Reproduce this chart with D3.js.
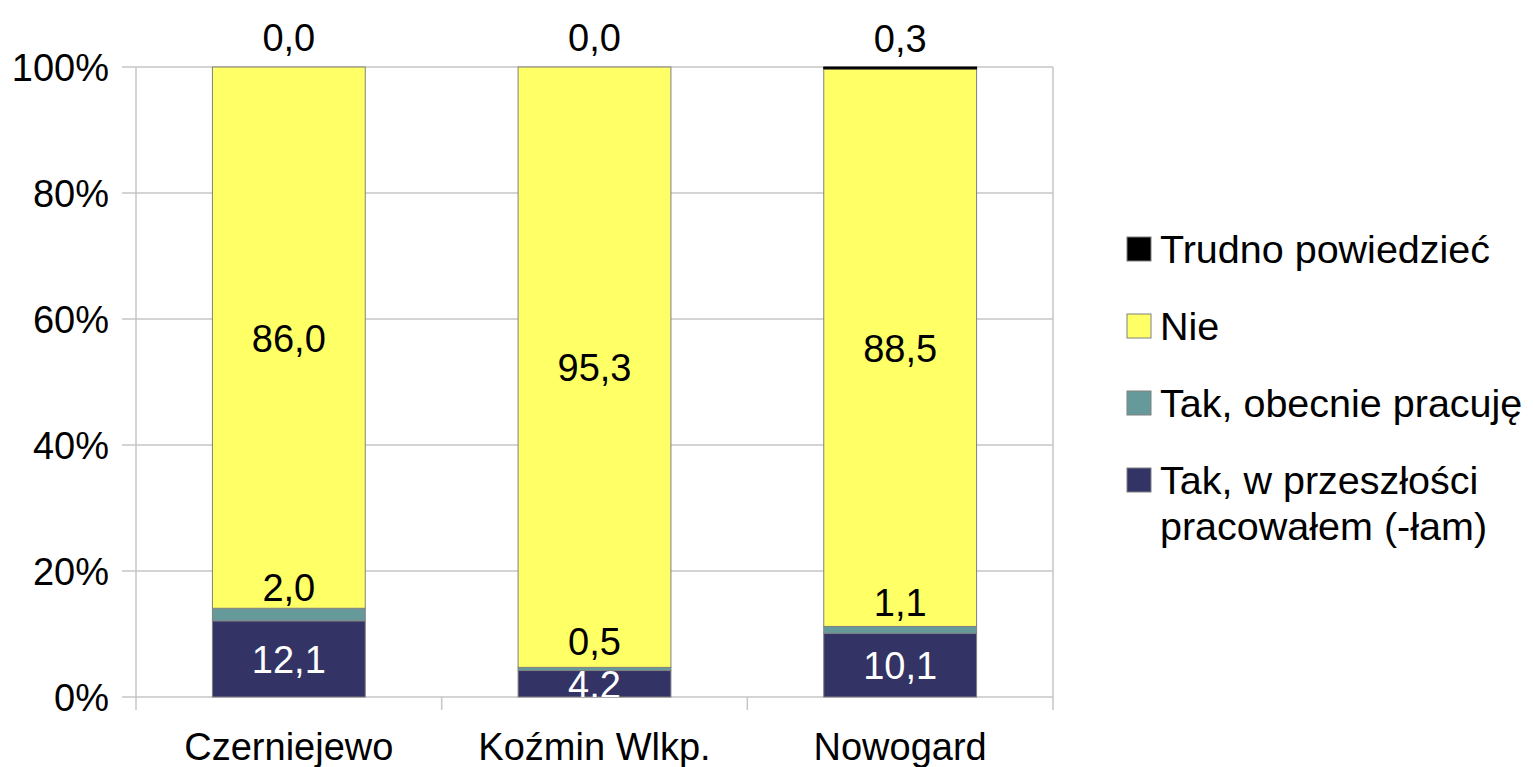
<!DOCTYPE html>
<html>
<head>
<meta charset="utf-8">
<script src="https://cdn.jsdelivr.net/npm/d3@7"></script>
<style>
  html, body { margin: 0; padding: 0; background: #fff; }
  svg { display: block; font-family: "Liberation Sans", Arial, sans-serif; }
</style>
</head>
<body>
<svg id="chart" width="1533" height="767"></svg>
<script>
// ---- data ----
const categories = ["Czerniejewo", "Koźmin Wlkp.", "Nowogard"];
const seriesNames = ["Tak, w przeszłości pracowałem (-łam)", "Tak, obecnie pracuję", "Nie", "Trudno powiedzieć"];
const pastWork = [12.1, 4.2, 10.1];
const currentWork = [2.0, 0.5, 1.1];
const noValues = [86.0, 95.3, 88.5];
const hardToSay = [0.0, 0.0, 0.3];
const yTicks = [0, 0.2, 0.4, 0.6, 0.8, 1.0];

// ---- styles ----
const seriesColors = ["#333366", "#669999", "#ffff66", "#000000"];
const seriesStroke = ["#808080", "#808080", "#808080", "#000000"];
const labelColors = ["#ffffff", "#000000", "#000000", "#000000"];
const labelDy = [0, -28, 0, -30];
const legendLines = [["Trudno powiedzieć"], ["Nie"], ["Tak, obecnie pracuję"], ["Tak, w przeszłości", "pracowałem (-łam)"]];
const legendSeries = [3, 2, 1, 0];

(function () {
const svg = d3.select("#chart");
const pLeft = 136, pRight = 1053, pTop = 67, pBottom = 697;
const fontSize = 38;
const legendFont = 39.5;

const rows = categories.map((c, i) => ({
  cat: c, s0: pastWork[i], s1: currentWork[i], s2: noValues[i], s3: hardToSay[i]
}));
const keys = ["s0", "s1", "s2", "s3"];
const stacked = d3.stack().keys(keys).offset(d3.stackOffsetExpand)(rows);

const x = d3.scaleBand().domain(categories).range([pLeft, pRight]).paddingInner(0.5).paddingOuter(0.25);
const y = d3.scaleLinear().domain([0, 1]).range([pBottom, pTop]);

svg.append("rect").attr("width", 1533).attr("height", 767).attr("fill", "#fff");

// gridlines
svg.append("g").selectAll("line").data(yTicks).join("line")
  .attr("x1", pLeft - 14).attr("x2", pRight)
  .attr("y1", d => y(d)).attr("y2", d => y(d))
  .attr("stroke", "#c6c6c6").attr("stroke-width", 1.5);

// y-axis labels
svg.append("g").selectAll("text").data(yTicks).join("text")
  .attr("x", 109).attr("y", d => y(d) + 14)
  .attr("text-anchor", "end").attr("font-size", fontSize).attr("fill", "#000")
  .text(d => Math.round(d * 100) + "%");

// axis lines and x ticks
const step = x.step();
const xTickPos = d3.range(categories.length + 1).map(i => pLeft + i * step);
svg.append("g").selectAll("line").data(xTickPos).join("line")
  .attr("x1", d => d).attr("x2", d => d)
  .attr("y1", (d, i) => (i === 0 || i === xTickPos.length - 1) ? pTop : pBottom)
  .attr("y2", pBottom + 13)
  .attr("stroke", "#c6c6c6").attr("stroke-width", 1.5);

// bars
const barsG = svg.append("g");
stacked.forEach((layer, si) => {
  barsG.append("g").selectAll("rect").data(layer).join("rect")
    .attr("x", d => x(d.data.cat))
    .attr("width", x.bandwidth())
    .attr("y", d => y(d[1]))
    .attr("height", d => Math.max(0, y(d[0]) - y(d[1])))
    .attr("fill", seriesColors[si])
    .attr("stroke", seriesStroke[si]).attr("stroke-width", 1);
});

// value labels (clipped to plot area bottom)
svg.append("clipPath").attr("id", "clipLabels")
  .append("rect").attr("x", pLeft).attr("y", 0).attr("width", pRight - pLeft).attr("height", pBottom);
const labelsG = svg.append("g").attr("clip-path", "url(#clipLabels)");
const rawSeries = [pastWork, currentWork, noValues, hardToSay];
stacked.forEach((layer, si) => {
  labelsG.append("g").selectAll("text").data(layer).join("text")
    .attr("x", d => x(d.data.cat) + x.bandwidth() / 2)
    .attr("y", d => (y(d[0]) + y(d[1])) / 2 + labelDy[si] + 14)
    .attr("text-anchor", "middle").attr("font-size", fontSize)
    .attr("fill", labelColors[si])
    .text((d, i) => rawSeries[si][i].toFixed(1).replace(".", ","));
});

// x labels
svg.append("g").selectAll("text").data(categories).join("text")
  .attr("x", d => x(d) + x.bandwidth() / 2).attr("y", 760)
  .attr("text-anchor", "middle").attr("font-size", fontSize).attr("fill", "#000")
  .text(d => d);

// legend
const legendY = [249, 326, 403, 480];
const lg = svg.append("g");
legendSeries.forEach((si, i) => {
  lg.append("rect")
    .attr("x", 1127).attr("y", legendY[i] - 12).attr("width", 24).attr("height", 24)
    .attr("fill", seriesColors[si]).attr("stroke", "#808080").attr("stroke-width", 1);
  legendLines[i].forEach((line, li) => {
    lg.append("text")
      .attr("x", 1160).attr("y", legendY[i] + 14 + li * 46)
      .attr("font-size", legendFont).attr("fill", "#000")
      .text(line);
  });
});
})();
</script>
</body>
</html>
